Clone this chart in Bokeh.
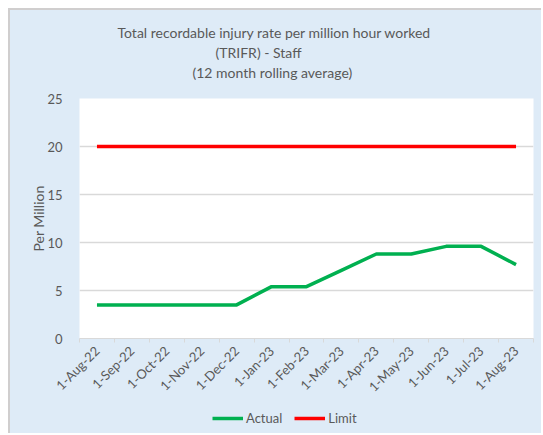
import math
import numpy as np
from bokeh.plotting import figure
from bokeh.layouts import column
from bokeh.models import (Range1d, FixedTicker, Title, Legend, LegendItem)
from bokeh.embed import file_html
from bokeh.resources import INLINE

# ---- data ----
dates = ["1-Aug-22", "1-Sep-22", "1-Oct-22", "1-Nov-22", "1-Dec-22", "1-Jan-23",
         "1-Feb-23", "1-Mar-23", "1-Apr-23", "1-May-23", "1-Jun-23", "1-Jul-23", "1-Aug-23"]
actual = [3.5, 3.5, 3.5, 3.5, 3.5, 5.4, 5.4, 7.1, 8.8, 8.8, 9.6, 9.6, 7.7]
limit = [20, 20, 20, 20, 20, 20, 20, 20, 20, 20, 20, 20, 20]
y_ticks = [0, 5, 10, 15, 20, 25]
title_lines = ["Total recordable injury rate per million hour worked",
               "(TRIFR) - Staff",
               "(12 month rolling average)"]
series_names = ["Actual", "Limit"]
series_colors = ["#00B050", "#FF0000"]

FONT = "Lato"
TXT = "#595959"
GRID = "#D9D9D9"
BG = "#DEEBF7"
EDGE = "2px solid #D0CECE"

n = len(dates)
xpos = np.arange(n) + 0.5  # category centres

p = figure(width=533, height=398, output_backend="svg", toolbar_location=None,
           x_range=Range1d(0, n), y_range=Range1d(0, 25),
           min_border_left=69, min_border_top=88, min_border_right=10,
           min_border_bottom=70)
p.styles = {"border-left": EDGE, "border-top": EDGE}
p.background_fill_color = "white"
p.border_fill_color = BG
p.outline_line_color = None

p.line(xpos, actual, line_color=series_colors[0], line_width=3.5)
p.line(xpos, limit, line_color=series_colors[1], line_width=3.5)

# x axis
xa = p.xaxis[0]
xa.ticker = FixedTicker(ticks=list(xpos), minor_ticks=list(range(n + 1)))
xa.major_label_overrides = {float(x): d for x, d in zip(xpos, dates)}
xa.major_label_orientation = math.pi / 4
xa.major_tick_line_color = None
xa.minor_tick_line_color = GRID
xa.minor_tick_out = 4
xa.minor_tick_in = 0
xa.axis_line_color = GRID
xa.major_label_text_font = FONT
xa.major_label_text_font_size = "13px"
xa.major_label_text_color = TXT
xa.major_label_standoff = 4

# y axis
ya = p.yaxis[0]
ya.ticker = FixedTicker(ticks=y_ticks)
ya.axis_line_color = None
ya.major_tick_line_color = None
ya.minor_tick_line_color = None
ya.major_label_text_font = FONT
ya.major_label_text_font_size = "13px"
ya.major_label_text_color = TXT
ya.major_label_standoff = 11
ya.axis_label = "Per Million"
ya.axis_label_text_font = FONT
ya.axis_label_text_font_size = "14px"
ya.axis_label_text_font_style = "normal"
ya.axis_label_text_color = TXT
ya.axis_label_standoff = -3

p.xgrid.grid_line_color = None
p.ygrid.grid_line_color = GRID
p.ygrid.grid_line_width = 1.5

# title: three centred lines (offsets from frame left)
title_offsets = [38, 136, 113]
title_standoffs = [2, 0, 2]
p.title = Title(text=title_lines[0], align="left", offset=title_offsets[0],
                text_font=FONT, text_font_size="14px", text_font_style="normal",
                text_color=TXT, standoff=title_standoffs[0])
# a thin spacer nearest the frame, then line 3, then line 2 (stacked outward)
p.add_layout(Title(text=" ", text_font_size="1px", standoff=14), "above")
for i in (2, 1):
    p.add_layout(Title(text=title_lines[i], align="left", offset=title_offsets[i],
                       text_font=FONT, text_font_size="14px", text_font_style="normal",
                       text_color=TXT, standoff=title_standoffs[i]), "above")

# legend strip below the chart (its frame is aligned with the chart's frame)
lg = figure(width=533, height=27, output_backend="svg", toolbar_location=None,
            x_range=Range1d(0, 1), y_range=Range1d(-101, -100),
            min_border=0, x_axis_location=None, y_axis_location=None)
lg.styles = {"border-left": EDGE}
lg.background_fill_color = BG
lg.border_fill_color = BG
lg.outline_line_color = None
lg.grid.visible = False
items = []
for name, col, vals in zip(series_names, series_colors, [actual, limit]):
    r = lg.line(xpos, vals, line_color=col, line_width=3.5)  # off-range: legend swatch only
    items.append(LegendItem(label=name, renderers=[r]))
legend = Legend(items=items, orientation="horizontal", location=(133, 7),
                glyph_width=31, glyph_height=14, label_standoff=3, spacing=12,
                padding=0, margin=0, border_line_color=None,
                background_fill_alpha=0, label_text_font=FONT,
                label_text_font_size="13px", label_text_color=TXT)
lg.add_layout(legend, "center")

layout = column(p, lg, spacing=0)
layout.margin = (8, 0, 0, 8)
layout.styles = {"background-color": BG}

open("out.html", "w").write(file_html(layout, INLINE))
